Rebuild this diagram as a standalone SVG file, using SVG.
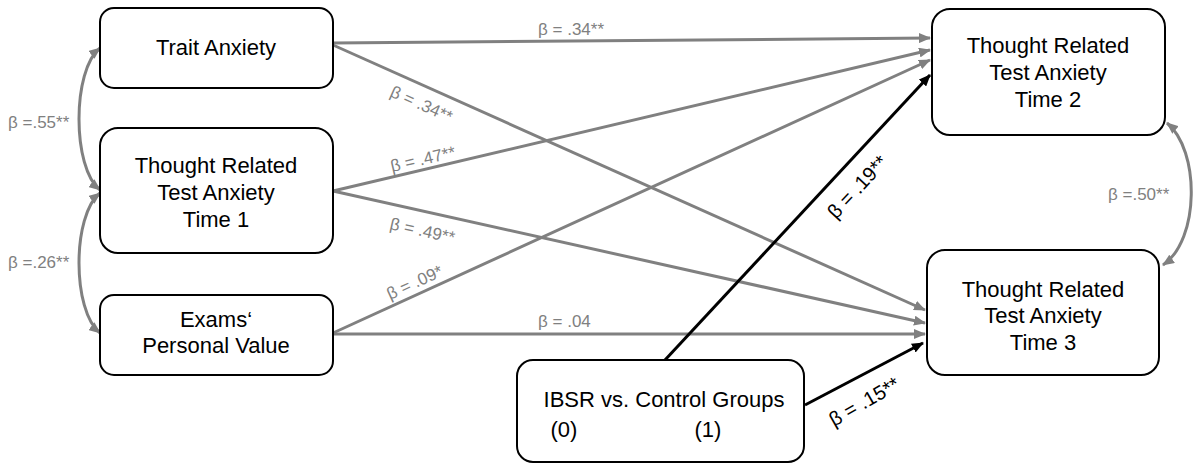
<svg xmlns="http://www.w3.org/2000/svg" width="1200" height="471" viewBox="0 0 1200 471">
<style>
.box{fill:#fff;stroke:#000;stroke-width:2}
.nt{font-family:"Liberation Sans",Arial,sans-serif;font-size:22px;fill:#000;text-anchor:middle}
.g{fill:none;stroke:#808080;stroke-width:3}
.b{fill:none;stroke:#000;stroke-width:3}
.gl{font-family:"Liberation Sans",Arial,sans-serif;font-size:17px;fill:#808080}
.bl{font-family:"Liberation Sans",Arial,sans-serif;font-size:20px;fill:#000}
</style>
<defs>
<marker id="ag" markerUnits="userSpaceOnUse" markerWidth="12" markerHeight="10" refX="11" refY="5" orient="auto-start-reverse"><path d="M0,0 L12,5 L0,10 z" fill="#808080"/></marker>
<marker id="ab" markerUnits="userSpaceOnUse" markerWidth="12" markerHeight="10" refX="11" refY="5" orient="auto"><path d="M0,0 L12,5 L0,10 z" fill="#000"/></marker>
</defs>
<rect width="1200" height="471" fill="#fff"/>
<g id="connectors">
<path class="g" d="M333,43 L930,38" marker-end="url(#ag)"/>
<path class="g" d="M333,45 L925,310" marker-end="url(#ag)"/>
<path class="g" d="M333,191 L930,50" marker-end="url(#ag)"/>
<path class="g" d="M333,191 L925,323" marker-end="url(#ag)"/>
<path class="g" d="M333,333 L930,60" marker-end="url(#ag)"/>
<path class="g" d="M333,334 L925,334" marker-end="url(#ag)"/>
<path class="b" d="M665,360 L930,75" marker-end="url(#ab)"/>
<path class="b" d="M805,405 L923,343" marker-end="url(#ab)"/>
<path class="g" d="M100,48 C72,70 72,168 100,190" marker-start="url(#ag)" marker-end="url(#ag)"/>
<path class="g" d="M100,193 C72,215 72,311 100,333" marker-start="url(#ag)" marker-end="url(#ag)"/>
<path class="g" d="M1167,123 C1200,150 1200,240 1163,265" marker-start="url(#ag)" marker-end="url(#ag)"/>
<text class="gl" x="8" y="128">β =.55**</text>
<text class="gl" x="8" y="268">β =.26**</text>
<text class="gl" x="1108" y="200">β =.50**</text>
<text class="gl" x="538" y="35">β = .34**</text>
<text class="gl" transform="translate(389,96) rotate(24)">β = .34**</text>
<text class="gl" transform="translate(392,172) rotate(-13)">β = .47**</text>
<text class="gl" transform="translate(389,229) rotate(12.6)">β = .49**</text>
<text class="gl" transform="translate(390,300) rotate(-24.6)">β = .09*</text>
<text class="gl" x="538" y="327">β = .04</text>
<text class="bl" transform="translate(836,220) rotate(-47)">β  = .19**</text>
<text class="bl" transform="translate(834,427) rotate(-30)">β  = .15**</text>
</g>
<g id="trait">
<rect class="box" x="100" y="8" width="233" height="80" rx="14"/>
<text class="nt" x="216" y="55">Trait Anxiety</text>
</g>
<g id="time1">
<rect class="box" x="100" y="128" width="233" height="125" rx="18"/>
<text class="nt" x="216" y="173">Thought Related</text>
<text class="nt" x="216" y="200">Test Anxiety</text>
<text class="nt" x="216" y="227">Time 1</text>
</g>
<g id="exams">
<rect class="box" x="100" y="295" width="233" height="80" rx="14"/>
<text class="nt" x="216" y="327">Exams‘</text>
<text class="nt" x="216" y="353">Personal Value</text>
</g>
<g id="time2">
<rect class="box" x="932" y="9" width="233" height="126" rx="18"/>
<text class="nt" x="1048" y="53">Thought Related</text>
<text class="nt" x="1048" y="80">Test Anxiety</text>
<text class="nt" x="1048" y="107">Time 2</text>
</g>
<g id="time3">
<rect class="box" x="927" y="250" width="232" height="125" rx="18"/>
<text class="nt" x="1043" y="297">Thought Related</text>
<text class="nt" x="1043" y="323">Test Anxiety</text>
<text class="nt" x="1043" y="350">Time 3</text>
</g>
<g id="ibsr">
<rect class="box" x="517" y="360" width="287" height="102" rx="16"/>
<text class="nt" x="664" y="407">IBSR vs. Control Groups</text>
<text class="nt" x="564" y="437">(0)</text>
<text class="nt" x="708" y="437">(1)</text>
</g>
</svg>
